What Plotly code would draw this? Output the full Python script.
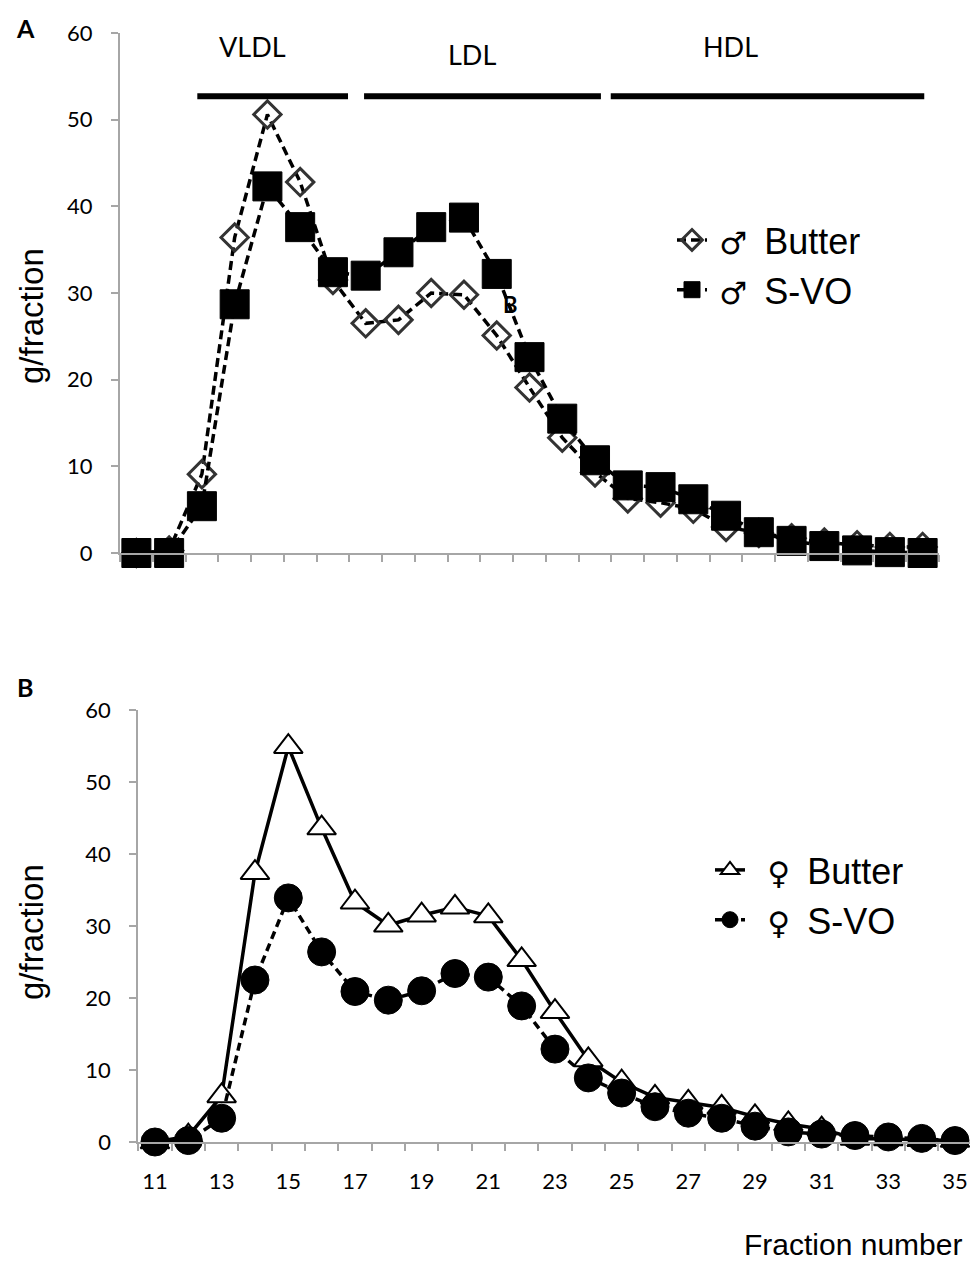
import plotly.graph_objects as go

# ---------------- data ----------------
fractions = list(range(11, 36))

male_butter = [0, 0.3, 9.1, 36.4, 50.6, 42.8, 31.5, 26.5, 26.9, 30.0, 29.8, 25.1, 19.1,
               13.3, 9.3, 6.3, 5.8, 5.1, 3.0, 2.3, 1.7, 1.2, 0.9, 0.7, 0.7]
male_svo = [0, 0, 5.4, 28.7, 42.3, 37.6, 32.4, 32.0, 34.7, 37.6, 38.7, 32.2, 22.6,
            15.5, 10.7, 7.8, 7.6, 6.2, 4.3, 2.4, 1.4, 0.8, 0.3, 0.1, 0.0]
female_butter = [0, 0.8, 6.4, 37.4, 54.9, 43.6, 33.3, 30.1, 31.5, 32.6, 31.4, 25.3, 18.1,
                 11.4, 8.3, 6.2, 5.5, 4.8, 3.5, 2.5, 1.8, 0.5, 0.4, 0.3, 0.2]
female_svo = [0, 0.2, 3.3, 22.5, 33.9, 26.4, 20.9, 19.7, 21.0, 23.4, 22.9, 18.9, 12.9,
              8.9, 6.8, 4.9, 4.0, 3.3, 2.2, 1.4, 1.1, 0.9, 0.7, 0.5, 0.2]

male_sign = "\u2642"
female_sign = "\u2640"
diet_names = ["Butter", "S-VO"]

region_labels = ["VLDL", "LDL", "HDL"]
region_start = [12.86, 17.95, 25.48]
region_end = [17.46, 25.18, 35.05]
region_label_x = [14.54, 21.24, 29.14]
region_label_y = [58.5, 57.5, 58.4]

y_ticks = [0, 10, 20, 30, 40, 50, 60]
x_labels = list(range(11, 36, 2))
boundaries = [f - 0.5 for f in fractions] + [35.5]


def legend_name(sign, diet, lead):
    return (lead + "<span style='font-family:DejaVu Sans;font-size:31px'>" + sign +
            "</span>\u2009 " + diet)


# ---------------- figure ----------------
fig = go.Figure()

tick_font = dict(family="Lato", size=22, color="#000000")
axis_col = "#a6a6a6"

fig.add_trace(go.Scatter(
    x=fractions, y=male_butter, name=legend_name(male_sign, diet_names[0], "\u2009"),
    mode="lines+markers", xaxis="x", yaxis="y", legend="legend", cliponaxis=False,
    line=dict(color="#000000", width=3.5, dash="9px,5px"),
    marker=dict(symbol="diamond-open", size=21, color="#333333",
                line=dict(width=3, color="#333333"))))
fig.add_trace(go.Scatter(
    x=fractions, y=male_svo, name=legend_name(male_sign, diet_names[1], "\u2009"),
    mode="lines+markers", xaxis="x", yaxis="y", legend="legend", cliponaxis=False,
    line=dict(color="#000000", width=3.5, dash="9px,5px"),
    marker=dict(symbol="square", size=29, color="#000000",
                line=dict(width=1, color="#000000"))))
fig.add_trace(go.Scatter(
    x=fractions, y=female_butter, name=legend_name(female_sign, diet_names[0], "\u00a0\u2009"),
    mode="lines+markers", xaxis="x2", yaxis="y2", legend="legend2", cliponaxis=False,
    line=dict(color="#000000", width=3.5),
    marker=dict(symbol="triangle-up", size=25, color="#ffffff",
                line=dict(width=2, color="#000000"))))
fig.add_trace(go.Scatter(
    x=fractions, y=female_svo, name=legend_name(female_sign, diet_names[1], "\u00a0\u2009"),
    mode="lines+markers", xaxis="x2", yaxis="y2", legend="legend2", cliponaxis=False,
    line=dict(color="#000000", width=3.5, dash="8px,5px"),
    marker=dict(symbol="circle", size=28, color="#000000",
                line=dict(width=1, color="#000000"))))

W, H = 970, 1264

shapes = []
for s, e in zip(region_start, region_end):
    shapes.append(dict(type="line", xref="x", yref="y", x0=s, x1=e, y0=52.7, y1=52.7,
                       line=dict(color="#000000", width=6)))

annotations = []
for lab, lx, ly in zip(region_labels, region_label_x, region_label_y):
    annotations.append(dict(text=lab, x=lx, y=ly, xref="x", yref="y", showarrow=False,
                            xanchor="center", yanchor="middle",
                            font=dict(family="Lato", size=27, color="#000000")))


def paper_text(text, px, py, size, family, angle=0, yanchor="middle"):
    return dict(text=text, x=px / W, y=1 - py / H, xref="paper", yref="paper",
                xanchor="center", yanchor=yanchor, textangle=angle, showarrow=False,
                font=dict(family=family, size=size, color="#000000"))


annotations += [
    dict(text="<b>B</b>", x=22.43, y=28.7, xref="x", yref="y", showarrow=False,
         xanchor="center", yanchor="middle",
         font=dict(family="Lato", size=22, color="#000000")),
    paper_text("<b>A</b>", 25, 28, 25, "Lato"),
    paper_text("<b>B</b>", 25, 687, 25, "Lato"),
    paper_text("g/fraction", 31, 316, 33, "Liberation Sans", -90),
    paper_text("g/fraction", 31, 932, 33, "Liberation Sans", -90),
    paper_text("Fraction number", 853, 1263, 30, "Liberation Sans", yanchor="bottom"),
]

common_y = dict(range=[0, 60], tickvals=y_ticks, showgrid=False, zeroline=False,
                showline=True, linecolor=axis_col, linewidth=2, automargin=False,
                ticks="outside", ticklen=7, tickcolor=axis_col, tickwidth=1.5,
                tickfont=tick_font, ticklabelstandoff=14)

fig.update_layout(
    width=W, height=H, autosize=False,
    margin=dict(l=0, r=0, t=0, b=0, pad=0, autoexpand=False),
    paper_bgcolor="#ffffff", plot_bgcolor="#ffffff",
    xaxis=dict(domain=[120 / W, 939 / W], range=[10.5, 35.5], anchor="y",
               automargin=False,
               showgrid=False, zeroline=False, showline=True, linecolor=axis_col,
               linewidth=2, tickvals=boundaries, ticks="outside", ticklen=7,
               tickcolor=axis_col, tickwidth=1.5, showticklabels=False),
    yaxis=dict(domain=[1 - 553 / H, 1 - 33 / H], anchor="x", **common_y),
    xaxis2=dict(domain=[138.3 / W, 1.0], range=[10.5, 35.45], anchor="y2",
                automargin=False,
                showgrid=False, zeroline=False, showline=True, linecolor=axis_col,
                linewidth=2, tickvals=x_labels, ticks="outside", ticklen=7,
                tickcolor="rgba(0,0,0,0)", tickfont=tick_font, ticklabelstandoff=12,
                minor=dict(tickvals=boundaries, ticks="outside", ticklen=7,
                           tickcolor=axis_col, tickwidth=1.5)),
    yaxis2=dict(domain=[1 - 1142 / H, 1 - 710 / H], anchor="x2", **common_y),
    legend=dict(x=672 / W, y=1 - 210 / H, xanchor="left", yanchor="top",
                bgcolor="rgba(0,0,0,0)", tracegroupgap=0,
                font=dict(family="Liberation Sans", size=36, color="#000000")),
    legend2=dict(x=710 / W, y=1 - 840 / H, xanchor="left", yanchor="top",
                 bgcolor="rgba(0,0,0,0)", tracegroupgap=0,
                 font=dict(family="Liberation Sans", size=36, color="#000000")),
    shapes=shapes,
    annotations=annotations,
    showlegend=True,
)

fig.write_html("out.html",
               config={"displayModeBar": False},
               post_script="document.body.style.margin='0';"
                           "document.body.style.overflow='hidden';")
